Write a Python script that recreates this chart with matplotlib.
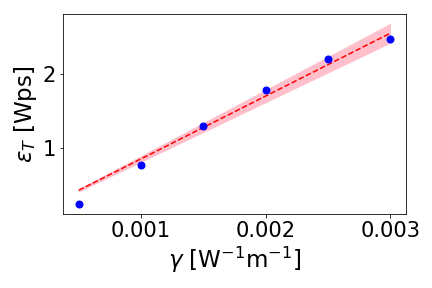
import matplotlib
matplotlib.use("Agg")
import matplotlib.pyplot as plt
import numpy as np

# measured points
gamma = [0.0005, 0.0010, 0.0015, 0.0020, 0.0025, 0.0030]
eps_t = [0.232, 0.77, 1.29, 1.787, 2.205, 2.47]
eps_err = [0.01, 0.01, 0.01, 0.015, 0.04, 0.05]

# linear fit
fit_slope = 854.4
fit_slope_err = 45.0
fit_intercept = -0.007

x = np.array(gamma)
y_fit = fit_intercept + fit_slope * x
y_lo = fit_intercept + (fit_slope - fit_slope_err) * x
y_hi = fit_intercept + (fit_slope + fit_slope_err) * x

fig, ax = plt.subplots(figsize=(6, 4), dpi=72)
fig.subplots_adjust(left=0.146, right=0.94, top=0.951, bottom=0.257)
ax.fill_between(x, y_lo, y_hi, color="pink", lw=0)
ax.plot(x, y_fit, "r--")
ax.errorbar(gamma, eps_t, yerr=eps_err, fmt="o", color="blue", ms=7)

ax.set_xticks([0.001, 0.002, 0.003])
ax.set_xticklabels(["0.001", "0.002", "0.003"])
ax.set_yticks([1, 2])
ax.tick_params(labelsize=21)
ax.set_xlabel(r"$\gamma$ [W$^{-1}$m$^{-1}$]", fontsize=23)
ax.set_ylabel(r"$\varepsilon_T$ [Wps]", fontsize=23)

fig.savefig("out.png", dpi=72)
